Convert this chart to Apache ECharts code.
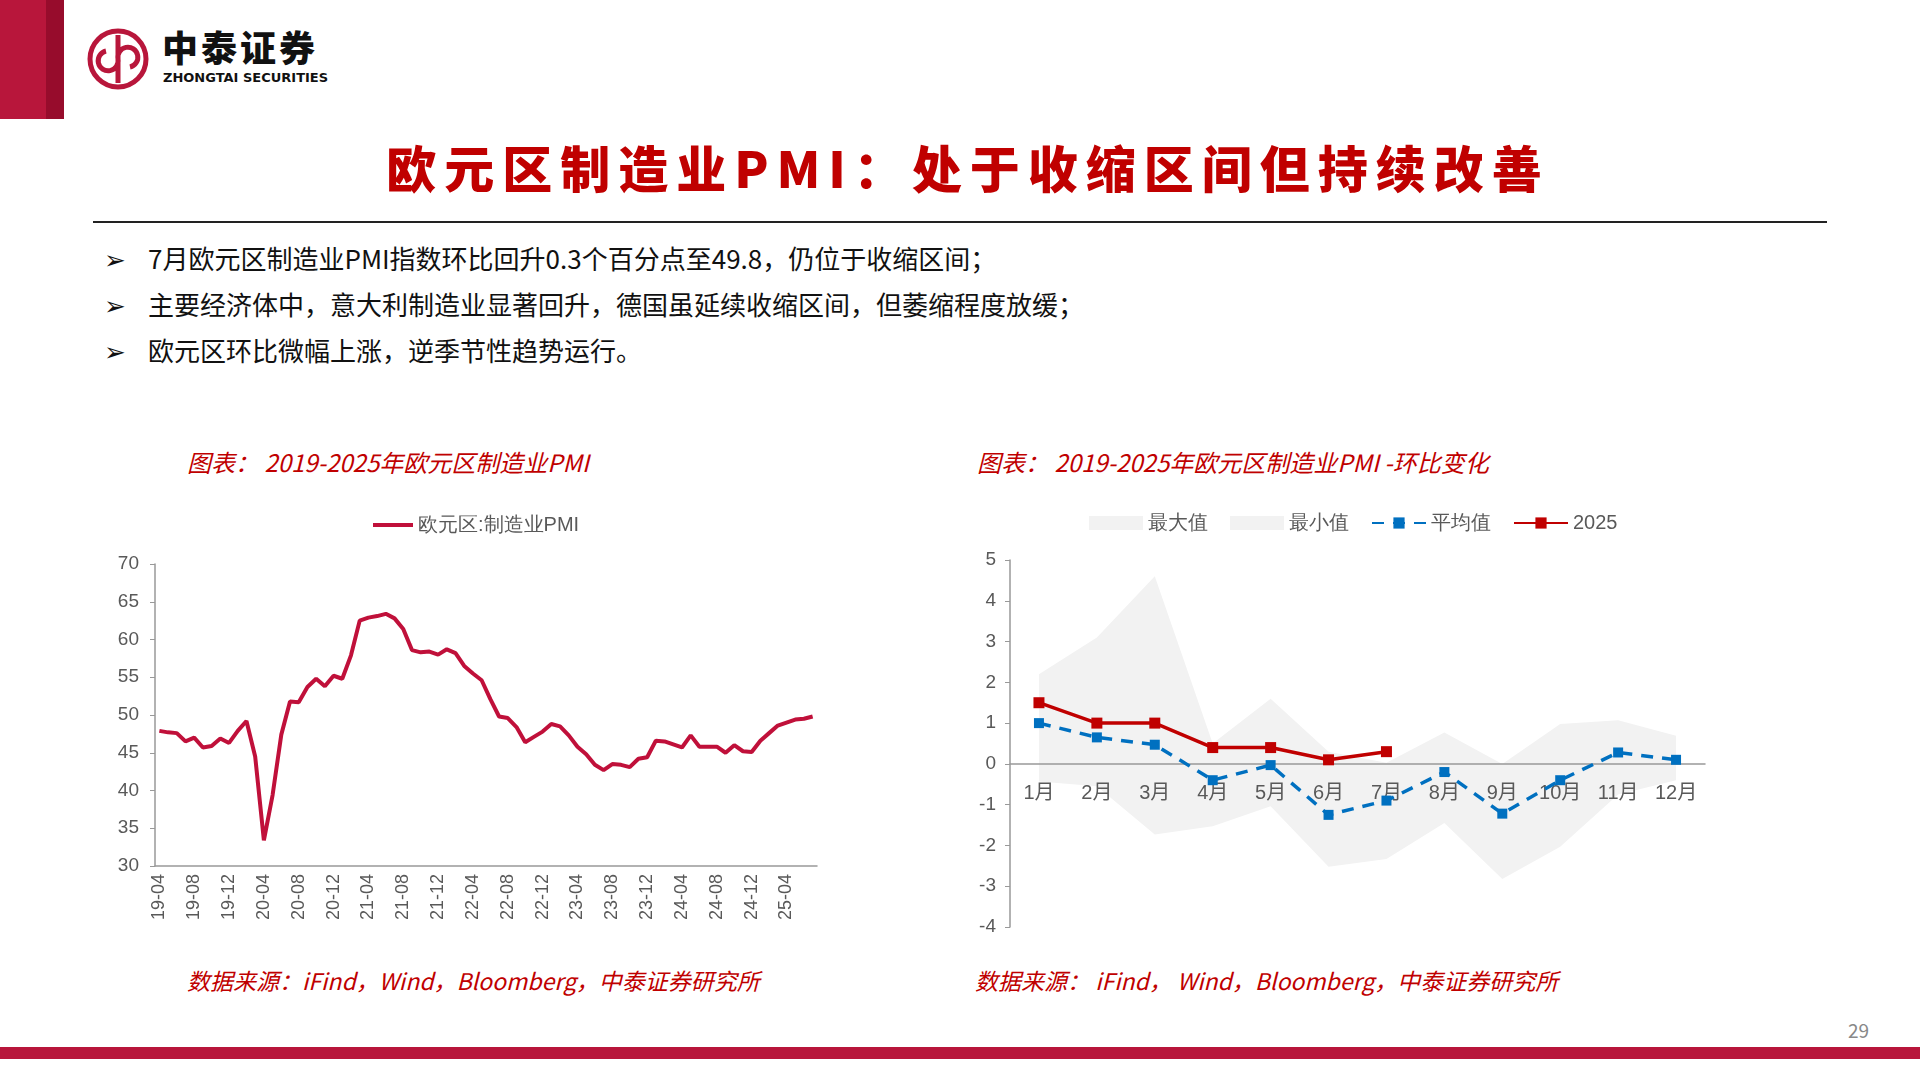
<!DOCTYPE html>
<html>
<head>
<meta charset="utf-8">
<script src="https://cdn.jsdelivr.net/npm/echarts@6/dist/echarts.min.js"></script>
<style>
  body { margin: 0; width: 1920px; height: 1080px; background: #fff; position: relative; overflow: hidden;
         font-family: "Noto Sans CJK SC", "Noto Sans", sans-serif; }
  .abs { position: absolute; }
  #chart { position: absolute; left: 0; top: 0; width: 1920px; height: 1080px; }
  .cap { color: #c00000; font-style: italic; font-size: 24px; }
  .src { font-size: 23px; }
  .bul { font-size: 26px; color: #111; left: 104px; }
  .bul span { display: inline-block; width: 44px; }
</style>
</head>
<body>
<div class="abs" style="left:0;top:0;width:46px;height:119px;background:#b8163b"></div>
<div class="abs" style="left:46px;top:0;width:18px;height:119px;background:#970c2c"></div>
<svg class="abs" style="left:86px;top:27px" width="64" height="64" viewBox="0 0 64 64">
  <circle cx="32" cy="32" r="28" fill="none" stroke="#b8163b" stroke-width="5"/>
  <path d="M32 8 V56 M20 24 a10 10 0 1 0 12 8 a10 10 0 1 1 12 8" fill="none" stroke="#b8163b" stroke-width="5"/>
</svg>
<div class="abs" style="left:162px;top:24px;font-size:36px;line-height:44px;font-weight:900;color:#111;letter-spacing:3px">中泰证券</div>
<div class="abs" style="left:163px;top:71px;font-size:13px;line-height:14px;font-weight:700;color:#111;font-family:'DejaVu Sans'">ZHONGTAI SECURITIES</div>

<div class="abs" style="left:8px;width:1920px;top:130px;text-align:center;font-size:50px;font-weight:900;color:#c00000;letter-spacing:8px">欧元区制造业PMI：处于收缩区间但持续改善</div>
<div class="abs" style="left:93px;top:221px;width:1734px;height:2px;background:#222"></div>

<div class="abs bul" style="top:239px"><span>➢</span>7月欧元区制造业PMI指数环比回升0.3个百分点至49.8，仍位于收缩区间；</div>
<div class="abs bul" style="top:285px"><span>➢</span>主要经济体中，意大利制造业显著回升，德国虽延续收缩区间，但萎缩程度放缓；</div>
<div class="abs bul" style="top:331px"><span>➢</span>欧元区环比微幅上涨，逆季节性趋势运行。</div>

<div class="abs cap" style="left:187px;top:444px">图表：&nbsp;2019-2025年欧元区制造业PMI</div>
<div class="abs cap" style="left:977px;top:444px">图表：&nbsp;2019-2025年欧元区制造业PMI -环比变化</div>
<div class="abs cap src" style="left:187px;top:963px">数据来源：iFind，Wind，Bloomberg，中泰证券研究所</div>
<div class="abs cap src" style="left:975px;top:963px">数据来源：&nbsp;iFind，&nbsp;Wind，Bloomberg，中泰证券研究所</div>

<div class="abs" style="left:0;top:1047px;width:1920px;height:12px;background:#b8163b"></div>
<div class="abs" style="left:1848px;top:1016px;font-size:19px;color:#888">29</div>

<div id="chart"></div>
<script>
// 欧元区制造业PMI, 2019-04 ~ 2025-07
var pmiValues = [
  47.9, 47.7, 47.6, 46.5, 47.0, 45.7, 45.9, 46.9, 46.3,
  47.9, 49.2, 44.5, 33.4, 39.4, 47.4, 51.8, 51.7, 53.7, 54.8, 53.8, 55.2,
  54.8, 57.9, 62.5, 62.9, 63.1, 63.4, 62.8, 61.4, 58.6, 58.3, 58.4, 58.0,
  58.7, 58.2, 56.5, 55.5, 54.6, 52.1, 49.8, 49.6, 48.4, 46.4, 47.1, 47.8,
  48.8, 48.5, 47.3, 45.8, 44.8, 43.4, 42.7, 43.5, 43.4, 43.1, 44.2, 44.4,
  46.6, 46.5, 46.1, 45.7, 47.3, 45.8, 45.8, 45.8, 45.0, 46.0, 45.2, 45.1,
  46.6, 47.6, 48.6, 49.0, 49.4, 49.5, 49.8
];
var pmiMonths = [];
for (var i = 0; i < pmiValues.length; i++) {
  var m = 3 + i;
  var y = 19 + Math.floor(m / 12);
  var mm = (m % 12) + 1;
  pmiMonths.push(y + "-" + (mm < 10 ? "0" + mm : mm));
}

// 环比变化
var monthLabels = ["1月","2月","3月","4月","5月","6月","7月","8月","9月","10月","11月","12月"];
var maxValues = [2.2, 3.1, 4.6, 0.5, 1.6, 0.3, 0.03, 0.77, 0.0, 0.98, 1.07, 0.69];
var minValues = [-0.43, -0.55, -1.73, -1.53, -1.04, -2.52, -2.33, -1.45, -2.82, -2.03, -0.75, -0.4];
var avgValues = [1.0, 0.65, 0.47, -0.4, -0.03, -1.25, -0.9, -0.2, -1.22, -0.4, 0.28, 0.1];
var y2025 = [1.5, 1.0, 1.0, 0.4, 0.4, 0.1, 0.3];

var gray = "#595959";
var axisLine = { lineStyle: { color: "#999", width: 1.5 } };
var lbl = { color: gray, fontSize: 19, fontFamily: "Liberation Sans, Noto Sans CJK SC" };

var rightH = 367;
var zeroOffset = -rightH * 4 / 9;

var chart = echarts.init(document.getElementById("chart"));
chart.setOption({
  animation: false,
  legend: [{
    left: 368, top: 510, itemWidth: 40, itemHeight: 4, icon: "rect",
    textStyle: { color: gray, fontSize: 20 },
    data: [{ name: "欧元区:制造业PMI" }]
  }, {
    left: 1084, top: 508, itemWidth: 54, itemHeight: 14, itemGap: 22,
    textStyle: { color: gray, fontSize: 20 },
    data: [
      { name: "最大值", icon: "rect" },
      { name: "最小值", icon: "rect" },
      { name: "平均值" },
      { name: "2025" }
    ]
  }],
  grid: [
    { left: 155, top: 564, width: 662, height: 302 },
    { left: 1010, top: 560, width: 695, height: rightH }
  ],
  xAxis: [{
    gridIndex: 0, type: "category", data: pmiMonths, boundaryGap: true,
    axisLine: axisLine, axisTick: { alignWithLabel: true, interval: 3, length: 5, lineStyle: { color: "#999" } },
    axisLabel: Object.assign({}, lbl, { interval: 3, rotate: 90, fontSize: 18 })
  }, {
    gridIndex: 1, type: "category", data: monthLabels, offset: zeroOffset, z: 4,
    axisLine: Object.assign({ onZero: false }, axisLine), axisTick: { length: 6, lineStyle: { color: "#999" } },
    axisLabel: Object.assign({}, lbl, { interval: 0, margin: 20, fontSize: 20 })
  }],
  yAxis: [{
    gridIndex: 0, type: "value", min: 30, max: 70, interval: 5,
    axisLine: Object.assign({ show: true }, axisLine), axisTick: { show: true, length: 5, lineStyle: { color: "#999" } },
    splitLine: { show: false }, axisLabel: Object.assign({}, lbl, { margin: 16 })
  }, {
    gridIndex: 1, type: "value", min: -4, max: 5, interval: 1,
    axisLine: Object.assign({ show: true }, axisLine), axisTick: { show: true, length: 5, lineStyle: { color: "#999" } },
    splitLine: { show: false }, axisLabel: Object.assign({}, lbl, { margin: 14 })
  }],
  series: [{
    name: "欧元区:制造业PMI", type: "line", xAxisIndex: 0, yAxisIndex: 0,
    data: pmiValues, symbol: "none", itemStyle: { color: "#c0103a" },
    lineStyle: { width: 4, color: "#c0103a" }
  }, {
    name: "最大值", type: "line", xAxisIndex: 1, yAxisIndex: 1, data: maxValues, z: 1,
    symbol: "none", lineStyle: { width: 0 }, itemStyle: { color: "#f2f2f2" },
    areaStyle: { color: "#f2f2f2", opacity: 1 }
  }, {
    name: "最小值", type: "line", xAxisIndex: 1, yAxisIndex: 1, data: minValues, z: 1,
    symbol: "none", lineStyle: { width: 0 }, itemStyle: { color: "#f2f2f2" },
    areaStyle: { color: "#f2f2f2", opacity: 1 }
  }, {
    name: "平均值", type: "line", xAxisIndex: 1, yAxisIndex: 1, data: avgValues,
    symbol: "rect", symbolSize: 10, itemStyle: { color: "#0070c0" },
    lineStyle: { width: 3.5, type: [12, 9], color: "#0070c0" }, z: 5
  }, {
    name: "2025", type: "line", xAxisIndex: 1, yAxisIndex: 1, data: y2025,
    symbol: "rect", symbolSize: 11, itemStyle: { color: "#c00000" },
    lineStyle: { width: 3.5, color: "#c00000" }, z: 6
  }]
});
</script>
</body>
</html>
